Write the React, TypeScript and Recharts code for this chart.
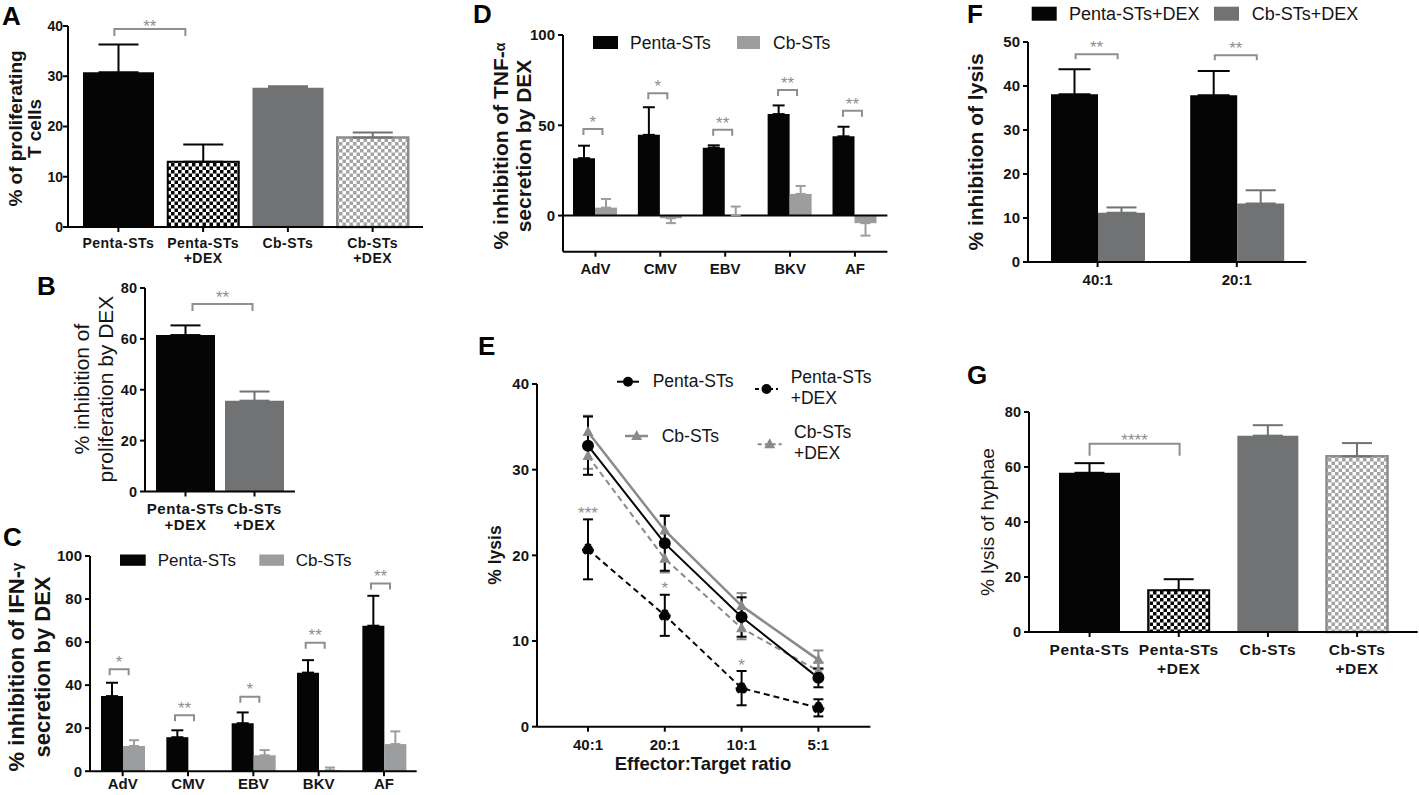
import React from 'react';
import {
  ComposedChart,
  LineChart,
  Bar,
  Line,
  XAxis,
  YAxis,
  ErrorBar,
  ReferenceLine,
  Cell,
} from 'recharts';

const FONT = "'Liberation Sans', Arial, Helvetica, sans-serif";
const INK = '#050505';
const DARK_GREY = '#707273';
const LIGHT_GREY = '#9c9d9e';
const LINE_GREY = '#8a8a8a';
const SIG_GREY = '#8e8e8e';
const TEXT = '#151515';

// A - proliferating T cells
const cellGroups = ['Penta-STs', 'Penta-STs\n+DEX', 'Cb-STs', 'Cb-STs\n+DEX'];
const prolifMean = [30.8, 13.0, 27.7, 17.8];
const prolifSd = [5.5, 3.4, 0.3, 1.0];
const prolifSigAt = [39.4, null, null, null];
const prolifSig = ['**', '', '', ''];

// B - inhibition of proliferation
const dexGroups = ['Penta-STs\n+DEX', 'Cb-STs\n+DEX'];
const prolifInhibMean = [61.5, 35.7];
const prolifInhibSd = [3.8, 3.6];
const prolifInhibSigAt = [73.7, null];
const prolifInhibSig = ['**', ''];

// C - IFN-gamma, D - TNF-alpha
const pathogens = ['AdV', 'CMV', 'EBV', 'BKV', 'AF'];
const ifnPenta = [34.9, 15.8, 22.3, 45.8, 67.6];
const ifnPentaSd = [6.2, 3.2, 5.0, 5.8, 13.9];
const ifnCb = [11.7, 0, 7.4, 0.5, 12.6];
const ifnCbSd = [2.7, 0, 2.4, 1.2, 5.9];
const ifnSigAt = [47.4, 26.0, 34.6, 59.7, 87.2];
const ifnSig = ['*', '**', '*', '**', '**'];

const tnfPenta = [31.8, 44.7, 37.6, 56.2, 43.9];
const tnfPentaSd = [6.9, 15.3, 1.3, 4.8, 5.3];
const tnfCb = [4.4, -1.5, 0.3, 12.0, -4.2];
const tnfCbSd = [4.8, 2.7, 4.7, 4.4, 6.9];
const tnfSigAt = [48.0, 67.8, 47.5, 69.6, 58.0];
const tnfSig = ['*', '*', '**', '**', '**'];

// E - % lysis by effector:target ratio
const ratios = ['40:1', '20:1', '10:1', '5:1'];
const lysisPenta = [32.8, 21.4, 12.8, 5.7];
const lysisPentaSd = [3.4, 3.2, 2.3, 1.1];
const lysisPentaDex = [20.7, 13.0, 4.5, 2.2];
const lysisPentaDexSd = [3.5, 2.4, 2.0, 1.0];
const lysisCb = [34.4, 22.9, 14.1, 7.8];
const lysisCbSd = [1.9, 1.8, 1.5, 1.1];
const lysisCbDex = [31.6, 19.6, 11.5, 6.5];
const lysisCbDexSd = [1.5, 1.6, 1.3, 1.0];
const lysisStarAt = [25.4, 16.7, 7.7, null];
const lysisStars = ['***', '*', '*', ''];

// F - inhibition of lysis
const ratiosF = ['40:1', '20:1'];
const lysisInhibPenta = [38.1, 37.9];
const lysisInhibPentaSd = [5.7, 5.5];
const lysisInhibCb = [11.2, 13.3];
const lysisInhibCbSd = [1.2, 3.0];
const lysisInhibSigAt = [47.2, 47.0];
const lysisInhibSig = ['**', '**'];

// G - lysis of hyphae
const hyphaeMean = [57.9, 15.2, 71.4, 63.9];
const hyphaeSd = [3.5, 4.0, 3.8, 4.8];
const hyphaeSigAt = [68.5, null, null, null];
const hyphaeSig = ['****', '', '', ''];

const up = (v: number, sd: number) => (sd ? (v >= 0 ? [0, sd] : [sd, 0]) : null);

const frame = (x0: number, x1: number, yTop: number, yBot: number, xh: number, mr = 2) => {
  const yw = 44;
  const mt = 24;
  const left = x0 - yw;
  const top = yTop - mt;
  return {
    style: { position: 'absolute' as const, left, top },
    width: x1 + mr - left,
    height: yBot + xh - top,
    margin: { top: mt, right: mr, bottom: 0, left: 0 },
    yw,
    xh,
  };
};

const axisLine = { stroke: INK, strokeWidth: 2 };
const yTick = (size: number) => ({ fontSize: size, fontWeight: 700, fill: TEXT });

const StackedTick = ({ x, y, payload, size, spacing = 0, dy2 = '1.1em' }: any) => (
  <text x={x} y={y} textAnchor="middle" fontSize={size} fontWeight={700} fill={TEXT} letterSpacing={spacing}>
    {String(payload.value)
      .split('\n')
      .map((line, i) => (
        <tspan key={i} x={x} dy={i === 0 ? '0.8em' : dy2}>
          {line}
        </tspan>
      ))}
  </text>
);

const xTick = (size: number, spacing = 0, dy2 = '1.1em') => (p: any) => (
  <StackedTick x={p.x} y={p.y} payload={p.payload} size={size} spacing={spacing} dy2={dy2} />
);

const checker = (id: string, ink: string, s = 3.5) => (
  <pattern id={id} width={s * 2} height={s * 2} patternUnits="userSpaceOnUse">
    <rect width={s * 2} height={s * 2} fill="#ffffff" />
    <rect width={s} height={s} fill={ink} />
    <rect x={s} y={s} width={s} height={s} fill={ink} />
  </pattern>
);

// significance bracket drawn at the point of the hidden "sig" series
const bracket = (dx1: number, dx2: number, leg: number, gap: number) => (p: any) => {
  const { cx, cy, index, payload } = p;
  if (cx == null || cy == null || !payload || !payload.sigLabel) return <g key={`sig-${index}`} />;
  const a = cx + dx1;
  const b = cx + dx2;
  return (
    <g key={`sig-${index}`}>
      <path d={`M${a},${cy + leg}V${cy}H${b}V${cy + leg}`} fill="none" stroke={SIG_GREY} strokeWidth={2} />
      <text x={(a + b) / 2} y={cy + gap} textAnchor="middle" fontSize={17} fill={SIG_GREY}>
        {payload.sigLabel}
      </text>
    </g>
  );
};

const starDot = (p: any) => {
  const { cx, cy, index, payload } = p;
  if (cx == null || cy == null || !payload || !payload.starLabel) return <g key={`star-${index}`} />;
  return (
    <text key={`star-${index}`} x={cx} y={cy + 10} textAnchor="middle" fontSize={17} fill={SIG_GREY}>
      {payload.starLabel}
    </text>
  );
};

const triangleDot = (color: string) => (p: any) => {
  const { cx, cy, index } = p;
  if (cx == null || cy == null) return <g key={`tri-${index}`} />;
  return <path key={`tri-${index}`} d={`M${cx},${cy - 6}L${cx + 5.5},${cy + 4}L${cx - 5.5},${cy + 4}Z`} fill={color} />;
};

const sigLine = (render: (p: any) => React.ReactElement) => (
  <Line dataKey="sig" stroke="none" dot={render} activeDot={false} isAnimationActive={false} legendType="none" />
);

const fourGroupTable = (mean: number[], sd: number[], sigAt: (number | null)[], sig: string[]) =>
  cellGroups.map((group, i) => {
    const cb = group.startsWith('Cb');
    return {
      group,
      penta: cb ? null : mean[i],
      pentaErr: cb ? null : up(mean[i], sd[i]),
      cb: cb ? mean[i] : null,
      cbErr: cb ? up(mean[i], sd[i]) : null,
      sig: sigAt[i],
      sigLabel: sig[i],
    };
  });

const FourGroupBars = ({ id, data, size, cap }: any) => [
  <Bar key="p" dataKey="penta" barSize={size} isAnimationActive={false}>
    {data.map((d: any, i: number) =>
      d.group.includes('DEX') ? (
        <Cell key={i} fill={`url(#chkInk${id})`} stroke={INK} strokeWidth={2} />
      ) : (
        <Cell key={i} fill={INK} />
      ),
    )}
    <ErrorBar dataKey="pentaErr" width={cap} stroke={INK} strokeWidth={2} direction="y" />
  </Bar>,
  <Bar key="c" dataKey="cb" barSize={size} isAnimationActive={false}>
    {data.map((d: any, i: number) =>
      d.group.includes('DEX') ? (
        <Cell key={i} fill={`url(#chkGrey${id})`} stroke="#8c8c8c" strokeWidth={2.5} />
      ) : (
        <Cell key={i} fill={DARK_GREY} />
      ),
    )}
    <ErrorBar dataKey="cbErr" width={cap} stroke={DARK_GREY} strokeWidth={2} direction="y" />
  </Bar>,
];

function PanelA() {
  const f = frame(68, 423, 26, 227, 50);
  const data = fourGroupTable(prolifMean, prolifSd, prolifSigAt, prolifSig);
  return (
    <div style={f.style}>
      <ComposedChart width={f.width} height={f.height} data={data} margin={f.margin} barSize={71} barGap={-71}>
        <defs>
          {checker('chkInkA', INK)}
          {checker('chkGreyA', '#a3a3a3')}
        </defs>
        <XAxis dataKey="group" interval={0} height={f.xh} padding={{ left: 8, right: 8 }} axisLine={axisLine} tickLine={axisLine} tickSize={5} tickMargin={5} tick={xTick(14, 0.5, '1.05em')} />
        <YAxis width={f.yw} domain={[0, 40]} ticks={[0, 10, 20, 30, 40]} axisLine={axisLine} tickLine={axisLine} tickSize={5} tickMargin={0} tick={yTick(14)} />
        {FourGroupBars({ id: 'A', data, size: 71, cap: 20 })}
        {sigLine(bracket(-4, 67, 7, 2.5))}
      </ComposedChart>
    </div>
  );
}

function PanelB() {
  const f = frame(145, 295, 287.8, 491.3, 50);
  const data = dexGroups.map((group, i) => {
    const cb = group.startsWith('Cb');
    return {
      group,
      penta: cb ? null : prolifInhibMean[i],
      pentaErr: cb ? null : up(prolifInhibMean[i], prolifInhibSd[i]),
      cb: cb ? prolifInhibMean[i] : null,
      cbErr: cb ? up(prolifInhibMean[i], prolifInhibSd[i]) : null,
      sig: prolifInhibSigAt[i],
      sigLabel: prolifInhibSig[i],
    };
  });
  return (
    <div style={f.style}>
      <ComposedChart width={f.width} height={f.height} data={data} margin={f.margin} barSize={59} barGap={-59}>
        <XAxis dataKey="group" interval={0} height={f.xh} padding={{ left: 6, right: 6 }} axisLine={axisLine} tickLine={axisLine} tickSize={5} tickMargin={5} tick={xTick(15, 0.6, '1.13em')} />
        <YAxis width={f.yw} domain={[0, 80]} ticks={[0, 20, 40, 60, 80]} axisLine={axisLine} tickLine={axisLine} tickSize={5} tickMargin={3} tick={yTick(14.5)} />
        <Bar dataKey="penta" barSize={59} fill={INK} isAnimationActive={false}>
          <ErrorBar dataKey="pentaErr" width={15} stroke={INK} strokeWidth={2} direction="y" />
        </Bar>
        <Bar dataKey="cb" barSize={59} fill={DARK_GREY} isAnimationActive={false}>
          <ErrorBar dataKey="cbErr" width={15} stroke={DARK_GREY} strokeWidth={2} direction="y" />
        </Bar>
        {sigLine(bracket(7, 67, 7, -0.7))}
      </ComposedChart>
    </div>
  );
}

function PanelC() {
  const f = frame(90, 416.7, 555.8, 771, 30);
  const data = pathogens.map((name, i) => ({
    name,
    penta: ifnPenta[i],
    pentaErr: up(ifnPenta[i], ifnPentaSd[i]),
    cb: ifnCb[i],
    cbErr: up(ifnCb[i], ifnCbSd[i]),
    sig: ifnSigAt[i],
    sigLabel: ifnSig[i],
  }));
  return (
    <div style={f.style}>
      <ComposedChart width={f.width} height={f.height} data={data} margin={f.margin} barGap={0}>
        <XAxis dataKey="name" interval={0} height={f.xh} axisLine={axisLine} tickLine={axisLine} tickSize={5} tickMargin={1} tick={xTick(15)} />
        <YAxis width={f.yw} domain={[0, 100]} ticks={[0, 20, 40, 60, 80, 100]} axisLine={axisLine} tickLine={axisLine} tickSize={5} tickMargin={3} tick={yTick(15)} />
        <Bar dataKey="penta" barSize={22} fill={INK} isAnimationActive={false}>
          <ErrorBar dataKey="pentaErr" width={6} stroke={INK} strokeWidth={2} direction="y" />
        </Bar>
        <Bar dataKey="cb" barSize={22} fill={LIGHT_GREY} isAnimationActive={false}>
          <ErrorBar dataKey="cbErr" width={5} stroke={LIGHT_GREY} strokeWidth={2} direction="y" />
        </Bar>
        {sigLine(bracket(-13, 6, 6, -1.4))}
      </ComposedChart>
    </div>
  );
}

function PanelD() {
  const f = frame(563.3, 887.7, 35, 251.7, 35);
  const data = pathogens.map((name, i) => ({
    name,
    penta: tnfPenta[i],
    pentaErr: up(tnfPenta[i], tnfPentaSd[i]),
    cb: tnfCb[i],
    cbErr: up(tnfCb[i], tnfCbSd[i]),
    sig: tnfSigAt[i],
    sigLabel: tnfSig[i],
  }));
  return (
    <div style={f.style}>
      <ComposedChart width={f.width} height={f.height} data={data} margin={f.margin} barGap={0}>
        <XAxis dataKey="name" interval={0} height={f.xh} axisLine={axisLine} tickLine={axisLine} tickSize={5} tickMargin={5} tick={xTick(15)} />
        <YAxis width={f.yw} domain={[-20, 100]} ticks={[0, 50, 100]} axisLine={axisLine} tickLine={axisLine} tickSize={5} tickMargin={3} tick={yTick(15)} />
        <ReferenceLine y={0} stroke={INK} strokeWidth={2} />
        <Bar dataKey="penta" barSize={22} fill={INK} isAnimationActive={false}>
          <ErrorBar dataKey="pentaErr" width={6} stroke={INK} strokeWidth={2} direction="y" />
        </Bar>
        <Bar dataKey="cb" barSize={22} fill={LIGHT_GREY} isAnimationActive={false}>
          <ErrorBar dataKey="cbErr" width={5} stroke={LIGHT_GREY} strokeWidth={2} direction="y" />
        </Bar>
        {sigLine(bracket(-12, 7, 6, -1))}
      </ComposedChart>
    </div>
  );
}

function PanelE() {
  const f = frame(537.3, 870.7, 384, 726.7, 30);
  const data = ratios.map((ratio, i) => ({
    ratio,
    penta: lysisPenta[i],
    pentaErr: lysisPentaSd[i],
    pentaDex: lysisPentaDex[i],
    pentaDexErr: lysisPentaDexSd[i],
    cb: lysisCb[i],
    cbErr: lysisCbSd[i],
    cbDex: lysisCbDex[i],
    cbDexErr: lysisCbDexSd[i],
    star: lysisStarAt[i],
    starLabel: lysisStars[i],
  }));
  return (
    <div style={f.style}>
      <LineChart width={f.width} height={f.height} data={data} margin={f.margin}>
        <XAxis dataKey="ratio" interval={0} height={f.xh} padding={{ left: 51, right: 52 }} axisLine={axisLine} tickLine={axisLine} tickSize={5} tickMargin={6} tick={xTick(15)} />
        <YAxis width={f.yw} domain={[0, 40]} ticks={[0, 10, 20, 30, 40]} axisLine={axisLine} tickLine={axisLine} tickSize={5} tickMargin={3} tick={yTick(15)} />
        <Line dataKey="cbDex" stroke={LINE_GREY} strokeWidth={2} strokeDasharray="6 4" dot={triangleDot(LINE_GREY)} activeDot={false} isAnimationActive={false}>
          <ErrorBar dataKey="cbDexErr" width={5} stroke={LINE_GREY} strokeWidth={2} direction="y" />
        </Line>
        <Line dataKey="cb" stroke={LINE_GREY} strokeWidth={2.5} dot={triangleDot(LINE_GREY)} activeDot={false} isAnimationActive={false}>
          <ErrorBar dataKey="cbErr" width={5} stroke={LINE_GREY} strokeWidth={2} direction="y" />
        </Line>
        <Line dataKey="pentaDex" stroke={INK} strokeWidth={2} strokeDasharray="6 4" dot={{ r: 5, fill: INK, stroke: INK }} activeDot={false} isAnimationActive={false}>
          <ErrorBar dataKey="pentaDexErr" width={5} stroke={INK} strokeWidth={2} direction="y" />
        </Line>
        <Line dataKey="penta" stroke={INK} strokeWidth={2} dot={{ r: 5, fill: INK, stroke: INK }} activeDot={false} isAnimationActive={false}>
          <ErrorBar dataKey="pentaErr" width={5} stroke={INK} strokeWidth={2} direction="y" />
        </Line>
        <Line dataKey="star" stroke="none" dot={starDot} activeDot={false} isAnimationActive={false} />
      </LineChart>
    </div>
  );
}

function PanelF() {
  const f = frame(1028.3, 1306.7, 41.7, 261.7, 35);
  const data = ratiosF.map((ratio, i) => ({
    ratio,
    penta: lysisInhibPenta[i],
    pentaErr: up(lysisInhibPenta[i], lysisInhibPentaSd[i]),
    cb: lysisInhibCb[i],
    cbErr: up(lysisInhibCb[i], lysisInhibCbSd[i]),
    sig: lysisInhibSigAt[i],
    sigLabel: lysisInhibSig[i],
  }));
  return (
    <div style={f.style}>
      <ComposedChart width={f.width} height={f.height} data={data} margin={f.margin} barGap={0}>
        <XAxis dataKey="ratio" interval={0} height={f.xh} axisLine={axisLine} tickLine={axisLine} tickSize={5} tickMargin={6} tick={xTick(15)} />
        <YAxis width={f.yw} domain={[0, 50]} ticks={[0, 10, 20, 30, 40, 50]} axisLine={axisLine} tickLine={axisLine} tickSize={5} tickMargin={3} tick={yTick(15)} />
        <Bar dataKey="penta" barSize={47} fill={INK} isAnimationActive={false}>
          <ErrorBar dataKey="pentaErr" width={16} stroke={INK} strokeWidth={2} direction="y" />
        </Bar>
        <Bar dataKey="cb" barSize={47} fill={DARK_GREY} isAnimationActive={false}>
          <ErrorBar dataKey="cbErr" width={15} stroke={DARK_GREY} strokeWidth={2} direction="y" />
        </Bar>
        {sigLine(bracket(-22, 20, 5, -1))}
      </ComposedChart>
    </div>
  );
}

function PanelG() {
  const f = frame(1029.3, 1418, 411.7, 631.7, 50, 1);
  const data = fourGroupTable(hyphaeMean, hyphaeSd, hyphaeSigAt, hyphaeSig);
  return (
    <div style={f.style}>
      <ComposedChart width={f.width} height={f.height} data={data} margin={f.margin} barSize={61} barGap={-61}>
        <defs>
          {checker('chkInkG', INK)}
          {checker('chkGreyG', '#a3a3a3')}
        </defs>
        <XAxis dataKey="group" interval={0} height={f.xh} padding={{ left: 16, right: 16 }} axisLine={axisLine} tickLine={axisLine} tickSize={5} tickMargin={6} tick={xTick(15.5, 0.6, '1.19em')} />
        <YAxis width={f.yw} domain={[0, 80]} ticks={[0, 20, 40, 60, 80]} axisLine={axisLine} tickLine={axisLine} tickSize={5} tickMargin={3} tick={yTick(14.5)} />
        {FourGroupBars({ id: 'G', data, size: 61, cap: 15 })}
        {sigLine(bracket(0, 90, 12, 2.5))}
      </ComposedChart>
    </div>
  );
}

const VTitle = ({ x, y, size, bold = true, children }: any) => (
  <text
    transform={`translate(${x},${y}) rotate(-90)`}
    textAnchor="middle"
    dominantBaseline="central"
    fontSize={size}
    fontWeight={bold ? 700 : 400}
    fill={TEXT}
  >
    {children}
  </text>
);

const Letter = ({ x, y, children }: any) => (
  <text x={x} y={y} fontSize={26} fontWeight={700} fill={INK}>
    {children}
  </text>
);

const Caption = ({ x, y, size, children }: any) => (
  <text x={x} y={y} fontSize={size} dominantBaseline="central" fill={TEXT}>
    {children}
  </text>
);

function Annotations() {
  const tri = (cx: number, cy: number) => `M${cx},${cy - 6}L${cx + 5.5},${cy + 4}L${cx - 5.5},${cy + 4}Z`;
  return (
    <svg width={1419} height={795} style={{ position: 'absolute', left: 0, top: 0, pointerEvents: 'none' }}>
      <Letter x={2} y={25}>A</Letter>
      <Letter x={37} y={295}>B</Letter>
      <Letter x={3} y={546}>C</Letter>
      <Letter x={473} y={23}>D</Letter>
      <Letter x={478} y={355}>E</Letter>
      <Letter x={967} y={23}>F</Letter>
      <Letter x={967} y={384}>G</Letter>

      <VTitle x={15} y={128.5} size={19}>% of proliferating</VTitle>
      <VTitle x={34} y={128.5} size={19}>T cells</VTitle>
      <VTitle x={81} y={389} size={21} bold={false}>% inhibition of</VTitle>
      <VTitle x={105} y={389} size={21} bold={false}>proliferation by DEX</VTitle>
      <VTitle x={16} y={667} size={22}>
        % inhibition of IFN-<tspan fontSize={15}>γ</tspan>
      </VTitle>
      <VTitle x={42} y={667} size={22}>secretion by DEX</VTitle>
      <VTitle x={500} y={146} size={21}>
        % inhibition of TNF-<tspan fontSize={14}>α</tspan>
      </VTitle>
      <VTitle x={523} y={146} size={21}>secretion by DEX</VTitle>
      <VTitle x={495} y={555} size={17.5}>% lysis</VTitle>
      <VTitle x={975} y={152} size={21}>% inhibition of lysis</VTitle>
      <VTitle x={987} y={522} size={19} bold={false}>% lysis of hyphae</VTitle>

      <text x={703} y={763} textAnchor="middle" dominantBaseline="central" fontSize={18.5} fontWeight={700} fill={TEXT}>
        Effector:Target ratio
      </text>

      {/* C legend */}
      <rect x={120} y={554.5} width={25.7} height={11.3} fill={INK} />
      <Caption x={157.7} y={560} size={17}>Penta-STs</Caption>
      <rect x={259.3} y={554.5} width={24.7} height={11.3} fill={LIGHT_GREY} />
      <Caption x={295.7} y={560} size={17}>Cb-STs</Caption>

      {/* D legend */}
      <rect x={593} y={36} width={25} height={13} fill={INK} />
      <Caption x={630} y={42.5} size={17.5}>Penta-STs</Caption>
      <rect x={737} y={36} width={23} height={13} fill={LIGHT_GREY} />
      <Caption x={773} y={42.5} size={17.5}>Cb-STs</Caption>

      {/* F legend */}
      <rect x={1031.7} y={6.7} width={25} height={14} fill={INK} />
      <Caption x={1069} y={13.7} size={18}>Penta-STs+DEX</Caption>
      <rect x={1214} y={6.7} width={25} height={14} fill={DARK_GREY} />
      <Caption x={1251.7} y={13.7} size={18}>Cb-STs+DEX</Caption>

      {/* E legend */}
      <line x1={617} y1={381.7} x2={639} y2={381.7} stroke={INK} strokeWidth={2} />
      <circle cx={628} cy={381.7} r={5} fill={INK} />
      <Caption x={652.7} y={381} size={17.5}>Penta-STs</Caption>
      <line x1={755} y1={389} x2={778} y2={389} stroke={INK} strokeWidth={2} strokeDasharray="4 3" />
      <circle cx={766.5} cy={389} r={5} fill={INK} />
      <Caption x={790.7} y={376.7} size={17.5}>Penta-STs</Caption>
      <Caption x={790.7} y={398.3} size={17.5}>+DEX</Caption>
      <line x1={625} y1={436} x2={648} y2={436} stroke={LINE_GREY} strokeWidth={2.5} />
      <path d={tri(636.7, 436)} fill={LINE_GREY} />
      <Caption x={661.7} y={436} size={17.5}>Cb-STs</Caption>
      <line x1={757.7} y1={444.3} x2={781.7} y2={444.3} stroke={LINE_GREY} strokeWidth={2} strokeDasharray="4 3" />
      <path d={tri(769.7, 444.3)} fill={LINE_GREY} />
      <Caption x={794} y={431.7} size={17.5}>Cb-STs</Caption>
      <Caption x={794} y={453.3} size={17.5}>+DEX</Caption>
    </svg>
  );
}

export default function App() {
  return (
    <div
      style={{
        position: 'absolute',
        left: 0,
        top: 0,
        width: 1419,
        height: 795,
        overflow: 'hidden',
        background: '#ffffff',
        fontFamily: FONT,
      }}
    >
      <PanelA />
      <PanelB />
      <PanelC />
      <PanelD />
      <PanelE />
      <PanelF />
      <PanelG />
      <Annotations />
    </div>
  );
}
